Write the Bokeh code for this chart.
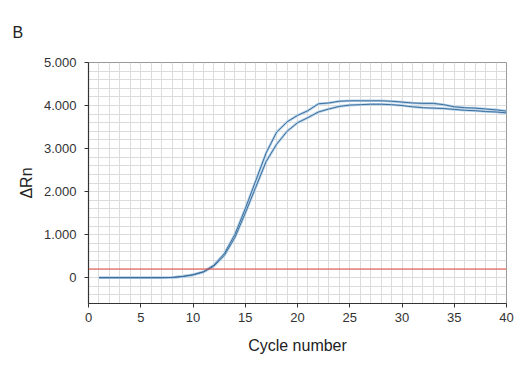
from bokeh.plotting import figure
from bokeh.models import Range1d, FixedTicker, SingleIntervalTicker, Span
from bokeh.embed import file_html
from bokeh.resources import INLINE

cycles = list(range(1, 41))
run_a = [0, 0, 0, 0, 0, 0, 0, 5, 30, 70,
         140, 290, 560, 1000, 1600, 2250, 2900, 3380, 3620, 3770,
         3880, 4040, 4060, 4100, 4110, 4110, 4110, 4110, 4100, 4080,
         4060, 4050, 4050, 4020, 3970, 3950, 3940, 3920, 3900, 3870]
run_b = [0, 0, 0, 0, 0, 0, 0, 5, 25, 65,
         130, 270, 520, 930, 1500, 2100, 2700, 3100, 3400, 3600,
         3720, 3850, 3920, 3980, 4010, 4020, 4030, 4030, 4020, 4000,
         3970, 3950, 3940, 3930, 3910, 3890, 3880, 3860, 3850, 3830]
threshold = 200
x_ticks = [0, 5, 10, 15, 20, 25, 30, 35, 40]
y_ticks = [0, 1000, 2000, 3000, 4000, 5000]
y_tick_labels = ["0", "1.000", "2.000", "3.000", "4.000", "5.000"]

FONT = "Liberation Sans"

p = figure(width=515, height=362, output_backend="svg", toolbar_location=None,
           x_range=Range1d(0, 40), y_range=Range1d(-600, 5000),
           min_border_left=88, min_border_right=9, min_border_top=62, min_border_bottom=59)
p.background_fill_color = "white"
p.border_fill_color = "white"
p.outline_line_color = "#9a9a9a"
p.outline_line_width = 1

p.title.text = "B"
p.title.align = "left"
p.title.offset = -76
p.title.standoff = 43
p.title.text_font = FONT
p.title.text_font_size = "16px"
p.title.text_font_style = "normal"
p.title.text_color = "#222222"

p.xgrid.ticker = SingleIntervalTicker(interval=1)
p.ygrid.ticker = SingleIntervalTicker(interval=200)
for g in (p.xgrid, p.ygrid):
    g.grid_line_color = "#dcdcdc"
    g.grid_line_width = 1

p.xaxis.ticker = FixedTicker(ticks=x_ticks)
p.yaxis.ticker = FixedTicker(ticks=y_ticks)
p.yaxis.major_label_overrides = {t: l for t, l in zip(y_ticks, y_tick_labels)}

for ax in (p.xaxis, p.yaxis):
    ax.axis_line_color = "#333333"
    ax.axis_line_width = 1.2
    ax.major_tick_line_color = "#333333"
    ax.major_tick_in = 0
    ax.major_tick_out = 4
    ax.minor_tick_line_color = None
    ax.major_label_text_font = FONT
    ax.major_label_text_font_size = "13px"
    ax.major_label_text_color = "#333333"
    ax.axis_label_text_font = FONT
    ax.axis_label_text_font_size = "16px"
    ax.axis_label_text_font_style = "normal"
    ax.axis_label_text_color = "#222222"

p.xaxis.axis_label = "Cycle number"
p.yaxis.axis_label = "ΔRn"
p.xaxis.major_label_standoff = 5
p.yaxis.major_label_standoff = 8
p.xaxis.axis_label_standoff = 12
p.yaxis.axis_label_standoff = 6

p.add_layout(Span(location=threshold, dimension="width", line_color="#e5483e", line_width=1.1))

for ys in (run_a, run_b):
    p.line(cycles, ys, line_color="#b3d0e8", line_width=2.6)
for ys in (run_a, run_b):
    p.line(cycles, ys, line_color="#3d6f9c", line_width=1.0)

open("out.html", "w").write(file_html(p, INLINE))
